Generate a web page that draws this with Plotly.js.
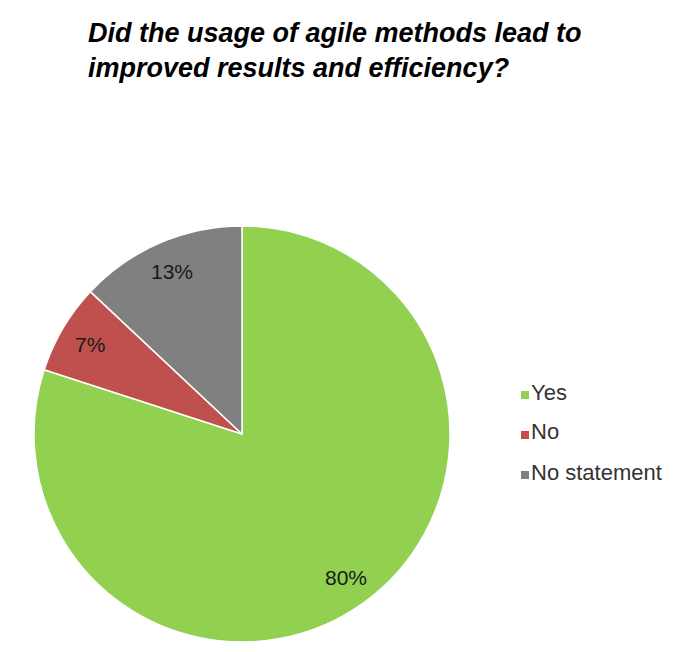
<!DOCTYPE html>
<html><head><meta charset="utf-8">
<script src="https://cdn.plot.ly/plotly-3.0.1.min.js"></script>
<style>html,body{margin:0;padding:0;background:#fff}#chart{width:684px;height:652px}</style>
</head><body><div id="chart"></div>
<script>
const categories = ["Yes", "No", "No statement"];
const values = [80, 7, 13];
const percentLabels = ["80%", "7%", "13%"];
const colors = ["#92D050", "#C0504D", "#808080"];
const titleText = "<b><i>Did the usage of agile methods lead to<br>improved results and efficiency?</i></b>";

const W = 684, H = 652;
const cx = 242, cy = 434, R = 208;
const font = "Liberation Sans, Arial, sans-serif";

const total = values.reduce((a, b) => a + b, 0);
const annotations = [];
let cum = 0;
values.forEach((v, i) => {
  const mid = (cum + v / 2) / total * 2 * Math.PI;
  cum += v;
  const r = 0.85 * R;
  const px = cx + r * Math.sin(mid);
  const py = cy - r * Math.cos(mid);
  annotations.push({
    xref: "paper", yref: "paper", x: px / W, y: 1 - py / H,
    xanchor: "center", yanchor: "middle", showarrow: false,
    text: percentLabels[i], font: {family: font, size: 21, color: "#1a1a1a"}
  });
});

const shapes = [];
categories.forEach((c, i) => {
  const ty = 392 + i * 40;
  annotations.push({
    xref: "paper", yref: "paper", x: 529 / W, y: 1 - ty / H,
    xanchor: "left", yanchor: "middle", showarrow: false,
    text: c, font: {family: font, size: 22, color: "#333333"}
  });
  shapes.push({
    type: "rect", xref: "paper", yref: "paper",
    x0: 521 / W, x1: 529 / W, y0: 1 - (ty + 7) / H, y1: 1 - (ty - 1) / H,
    fillcolor: colors[i], line: {width: 0}
  });
});

const trace = {
  type: "pie",
  labels: categories,
  values: values,
  sort: false,
  direction: "clockwise",
  rotation: 0,
  marker: {colors: colors, line: {color: "#ffffff", width: 1.5}},
  textinfo: "none",
  hoverinfo: "label+percent",
  domain: {x: [(cx - R) / W, (cx + R) / W], y: [1 - (cy + R) / H, 1 - (cy - R) / H]}
};

const layout = {
  width: W, height: H,
  margin: {l: 0, r: 0, t: 0, b: 0},
  paper_bgcolor: "#ffffff",
  showlegend: false,
  title: {
    text: titleText, xref: "container", yref: "container",
    x: 88 / W, xanchor: "left", y: 1 - 42 / H, yanchor: "top",
    font: {family: font, size: 27, color: "#000000"}
  },
  annotations: annotations,
  shapes: shapes
};

Plotly.newPlot("chart", [trace], layout, {displayModeBar: false, staticPlot: true});
</script></body></html>
